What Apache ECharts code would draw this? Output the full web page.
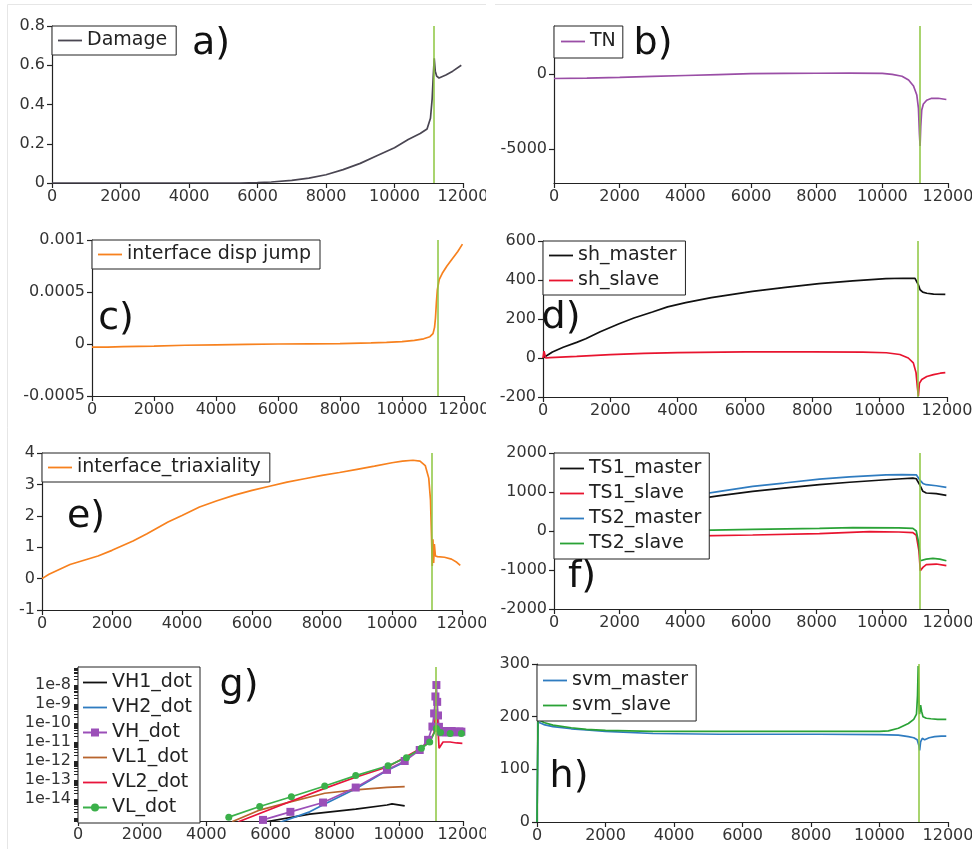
<!DOCTYPE html>
<html><head><meta charset="utf-8">
<script src="https://cdn.jsdelivr.net/npm/echarts@6/dist/echarts.min.js"></script>
<style>html,body{margin:0;padding:0;background:#fff}#c{width:972px;height:849px}</style>
</head><body><div id="c"></div>
<script>
// ---------------- data ----------------
const markerX = 11140;           // green vertical line (time of failure)
const xTickStep = 2000;

// a) Damage
const damageX = [0, 5500, 6000, 6400, 7000, 7500, 8000, 8500, 9000, 9500, 10000, 10400, 10750, 10950, 11050, 11100, 11130, 11160, 11190, 11230, 11300, 11500, 11700, 11950];
const damageY = [0, 0, 0.002, 0.005, 0.013, 0.025, 0.042, 0.068, 0.1, 0.14, 0.18, 0.222, 0.252, 0.275, 0.33, 0.43, 0.54, 0.635, 0.57, 0.545, 0.535, 0.55, 0.57, 0.6];

// b) TN
const tnX = [0, 1000, 2000, 3000, 4000, 5000, 6000, 7000, 8000, 9000, 10000, 10300, 10600, 10800, 10950, 11050, 11100, 11130, 11150, 11170, 11200, 11250, 11350, 11500, 11700, 11950];
const tnY = [-300, -270, -220, -160, -100, -40, 20, 40, 50, 55, 40, -30, -150, -400, -800, -1400, -2300, -4000, -4800, -3500, -2400, -2000, -1750, -1620, -1620, -1700];
const tnTicks = [-5000, 0];

// c) interface disp jump
const jumpX = [0, 500, 1000, 2000, 3000, 4000, 5000, 6000, 7000, 8000, 9000, 9500, 10000, 10400, 10700, 10900, 11000, 11050, 11080, 11110, 11140, 11200, 11300, 11450, 11600, 11800, 11950];
const jumpY = [-0.00003, -0.00003, -0.000025, -0.00002, -0.000012, -0.000008, -0.000004, 0, 0.000002, 0.000004, 0.00001, 0.000015, 0.000022, 0.000035, 0.00005, 0.00007, 0.0001, 0.00016, 0.00025, 0.0004, 0.00052, 0.00062, 0.00068, 0.00075, 0.00081, 0.00089, 0.00096];

// d) sh_master / sh_slave
const shMasterX = [0, 280, 600, 1000, 1270, 1700, 2260, 2700, 3250, 3700, 4240, 5000, 6220, 7200, 8200, 9200, 10185, 10700, 11050, 11100, 11150, 11200, 11280, 11400, 11600, 11950];
const shMasterY = [0, 31, 55, 80, 99, 135, 176, 205, 236, 262, 284, 310, 342, 362, 381, 396, 407, 409, 408, 400, 375, 350, 338, 332, 328, 326];
const shSlaveX = [0, 30, 80, 200, 1000, 2000, 3000, 4000, 6000, 8000, 9500, 10200, 10600, 10850, 11000, 11080, 11120, 11150, 11180, 11250, 11400, 11600, 11800, 11950];
const shSlaveY = [0, 35, 0, 2, 8, 17, 24, 28, 31, 31, 30, 27, 18, 0, -25, -75, -150, -195, -130, -110, -95, -85, -78, -75];

// e) interface_triaxiality
const triaxX = [0, 200, 800, 1600, 2000, 2600, 3000, 3600, 4000, 4500, 5000, 5500, 6000, 6500, 7000, 7500, 8000, 8500, 9000, 9500, 10000, 10300, 10600, 10800, 10950, 11050, 11100, 11130, 11150, 11170, 11190, 11210, 11240, 11300, 11500, 11700, 11850, 11950];
const triaxY = [0, 0.14, 0.45, 0.72, 0.9, 1.2, 1.43, 1.8, 2.01, 2.28, 2.48, 2.66, 2.81, 2.94, 3.07, 3.18, 3.29, 3.38, 3.48, 3.58, 3.69, 3.74, 3.77, 3.74, 3.6, 3.2, 2.5, 1.3, 0.4, 1.25, 0.5, 1.1, 0.72, 0.7, 0.68, 0.62, 0.52, 0.42];

// f) TS1/TS2 master/slave
const ts1MasterX = [0, 1000, 2000, 3000, 4425, 5000, 6050, 7000, 8085, 9000, 10117, 10600, 10930, 11034, 11135, 11236, 11338, 11643, 11950];
const ts1MasterY = [0, 300, 500, 650, 830, 900, 1017, 1100, 1187, 1250, 1314, 1340, 1356, 1340, 1187, 1017, 975, 960, 915];
const ts1SlaveX = [0, 2000, 4425, 6050, 8085, 9610, 10500, 10930, 11034, 11115, 11156, 11236, 11338, 11643, 11950];
const ts1SlaveY = [0, -80, -127, -102, -68, -17, -25, -42, -110, -508, -1017, -932, -864, -847, -890];
const ts2MasterX = [0, 1000, 2000, 3000, 4425, 5000, 6050, 7000, 8085, 9000, 10117, 10600, 11034, 11135, 11236, 11338, 11643, 11950];
const ts2MasterY = [0, 330, 560, 730, 935, 1010, 1144, 1230, 1331, 1390, 1441, 1445, 1441, 1314, 1220, 1187, 1160, 1118];
const ts2SlaveX = [0, 2000, 4425, 6050, 8085, 9100, 10500, 10930, 11034, 11115, 11156, 11200, 11338, 11541, 11750, 11950];
const ts2SlaveY = [0, 10, 17, 42, 68, 85, 80, 68, 0, -340, -763, -740, -720, -703, -720, -763];

// g) rates (log scale)
const vh1X = [5900, 7222, 8656, 9632, 9788, 10183];
const vh1Y = [6.5e-16, 1.6e-15, 2.9e-15, 4.8e-15, 5.5e-15, 4.3e-15];
const vh2X = [6300, 7222, 7690, 8656, 9632, 10183];
const vh2Y = [5.9e-16, 2.1e-15, 5.5e-15, 3.5e-14, 3.2e-13, 8.9e-13];
const vhX = [5767, 6620, 7638, 8656, 9632, 10183, 10651, 10911, 11047, 11100, 11140, 11171, 11195, 11220, 11250, 11290, 11350, 11410, 11470, 11530, 11590, 11650, 11710, 11770, 11830, 11890, 11950];
const vhY = [7.9e-16, 2.1e-15, 6.5e-15, 4.0e-14, 3.4e-13, 1.0e-12, 3.8e-12, 1.3e-11, 6.5e-11, 3.2e-10, 2.5e-9, 1.0e-8, 1.3e-9, 2.5e-10, 6.3e-11, 3.5e-11, 3.2e-11, 3.8e-11, 3.3e-11, 3.5e-11, 3.2e-11, 3.8e-11, 3.4e-11, 3.5e-11, 3.2e-11, 3.6e-11, 3.5e-11];
const vl1X = [4800, 5664, 6651, 7690, 8656, 9632, 10183];
const vl1Y = [6.3e-16, 2.6e-15, 7.2e-15, 2.0e-14, 3.0e-14, 4.1e-14, 4.5e-14];
const vl2X = [5000, 6598, 7690, 8656, 9663, 10651, 10962, 11100, 11150, 11200, 11254, 11378, 11600, 11800, 11980];
const vl2Y = [6.3e-16, 7.2e-15, 3.6e-14, 1.4e-13, 5.0e-13, 4.3e-12, 1.0e-11, 3.2e-11, 4.8e-10, 2.0e-10, 4.7e-12, 1.0e-11, 1.0e-11, 8.9e-12, 8.5e-12];
const vlX = [4700, 5664, 6651, 7690, 8656, 9663, 10236, 10703, 10962, 11171, 11300, 11600, 11950];
const vlY = [1.1e-15, 4.0e-15, 1.3e-14, 4.8e-14, 1.7e-13, 5.6e-13, 1.5e-12, 4.7e-12, 1.0e-11, 5.2e-11, 3.2e-11, 2.8e-11, 2.8e-11];
const gDecades = [-14, -13, -12, -11, -10, -9, -8];

// h) svm
const svmMasterX = [0, 30, 200, 466, 1000, 1440, 2000, 3387, 5333, 8253, 10000, 10551, 10843, 11000, 11100, 11150, 11172, 11200, 11250, 11318, 11450, 11610, 11800, 11950];
const svmMasterY = [0, 190, 185, 181, 177, 175, 172, 168, 166.6, 166.6, 166, 165, 162, 160, 156, 145, 136, 152, 159, 156, 160, 162, 163, 163];
const svmSlaveX = [0, 30, 200, 466, 1000, 1440, 2000, 3387, 5333, 8253, 10000, 10260, 10551, 10843, 11000, 11080, 11110, 11130, 11150, 11170, 11200, 11230, 11270, 11367, 11500, 11700, 11950];
const svmSlaveY = [0, 195, 189, 184, 179, 176, 174, 172, 172, 172, 172, 173, 178, 187, 195, 205, 240, 296, 230, 205, 222, 210, 200, 197, 196, 195, 195];

// ---------------- chart ----------------
const FONT = '"DejaVu Sans", Verdana, sans-serif';
const AX = '#222';
const zip = (xs, ys) => xs.map((x, i) => [x, ys[i]]);
const zipLog = (xs, ys) => xs.map((x, i) => [x, Math.log10(ys[i])]);
const plain = v => String(+(+v).toPrecision(6));

const grids = [
  {left: 52,  top: 26,  width: 411, height: 157},
  {left: 554, top: 26,  width: 394, height: 157},
  {left: 92,  top: 240, width: 372, height: 156},
  {left: 543, top: 241, width: 404, height: 156},
  {left: 42,  top: 453, width: 420, height: 157},
  {left: 554, top: 453, width: 394, height: 156},
  {left: 78,  top: 667, width: 385, height: 154},
  {left: 537, top: 664, width: 411, height: 158}
].map(g => Object.assign({outerBoundsMode: 'none', containLabel: false}, g));

const labelBase = {fontSize: 16, fontFamily: FONT, color: '#333'};
function xAx(i) {
  return {
    type: 'value', gridIndex: i, min: 0, max: 12000, interval: xTickStep,
    axisLine: {show: true, onZero: false, lineStyle: {color: AX, width: 1.2}},
    axisTick: {show: true, length: 5, lineStyle: {color: AX, width: 1.2}},
    axisLabel: Object.assign({margin: 6, formatter: plain}, labelBase),
    splitLine: {show: false}
  };
}
function yAx(i, o) {
  return Object.assign({
    type: 'value', gridIndex: i,
    axisLine: {show: true, onZero: false, lineStyle: {color: AX, width: 1.2}},
    axisTick: {show: true, length: 5, lineStyle: {color: AX, width: 1.2}},
    axisLabel: Object.assign({margin: 7, formatter: plain}, labelBase),
    splitLine: {show: false}
  }, o);
}

const gMinor = [];
for (let d = -16; d <= -7; d++) for (let k = 1; k <= 9; k++) {
  const v = d + Math.log10(k);
  if (v >= -15.16 && v <= -7.05) gMinor.push(v);
}

const yAxes = [
  yAx(0, {min: 0, max: 0.8, interval: 0.2}),
  yAx(1, {min: -7270, max: 3200,
    axisLabel: Object.assign({margin: 7, formatter: plain, customValues: tnTicks}, labelBase),
    axisTick: {show: true, length: 5, lineStyle: {color: AX, width: 1.2}, customValues: tnTicks}}),
  yAx(2, {min: -0.0005, max: 0.001, interval: 0.0005}),
  yAx(3, {min: -200, max: 600, interval: 200}),
  yAx(4, {min: -1, max: 4, interval: 1}),
  yAx(5, {min: -2000, max: 2000, interval: 1000}),
  yAx(6, {min: -15.16, max: -7.05,
    axisLabel: Object.assign({margin: 7, customValues: gDecades, formatter: v => '1e' + Math.round(v)}, labelBase),
    axisTick: {show: true, length: 4, lineStyle: {color: AX, width: 1}, customValues: gMinor}}),
  yAx(7, {min: 0, max: 300, interval: 100})
];

const mark = {
  silent: true, symbol: ['none', 'none'], animation: false,
  label: {show: false},
  lineStyle: {color: '#8cc63f', width: 1.5, type: 'solid'},
  emphasis: {disabled: true},
  data: [{xAxis: markerX}]
};

function ser(name, data, color, gi, extra) {
  return Object.assign({
    type: 'line', name, data, xAxisIndex: gi, yAxisIndex: gi,
    symbol: 'none', lineStyle: {color, width: 1.7}, itemStyle: {color},
    animation: false, emphasis: {disabled: true}, clip: true
  }, extra || {});
}
const withMark = {markLine: mark};

const series = [
  ser('Damage', zip(damageX, damageY), '#4a4652', 0, withMark),
  ser('TN', zip(tnX, tnY), '#9a4ea6', 1, withMark),
  ser('interface disp jump', zip(jumpX, jumpY), '#f7811e', 2, withMark),
  ser('sh_master', zip(shMasterX, shMasterY), '#111111', 3, withMark),
  ser('sh_slave', zip(shSlaveX, shSlaveY), '#e8142f', 3),
  ser('interface_triaxiality', zip(triaxX, triaxY), '#f7811e', 4, withMark),
  ser('TS1_master', zip(ts1MasterX, ts1MasterY), '#111111', 5, withMark),
  ser('TS1_slave', zip(ts1SlaveX, ts1SlaveY), '#e8142f', 5),
  ser('TS2_master', zip(ts2MasterX, ts2MasterY), '#2f7cc0', 5),
  ser('TS2_slave', zip(ts2SlaveX, ts2SlaveY), '#2aa236', 5),
  ser('VH1_dot', zipLog(vh1X, vh1Y), '#111111', 6, withMark),
  ser('VH2_dot', zipLog(vh2X, vh2Y), '#2f7cc0', 6),
  ser('VL1_dot', zipLog(vl1X, vl1Y), '#b8652e', 6),
  ser('VH_dot', zipLog(vhX, vhY), '#9b4fb8', 6, {symbol: 'rect', symbolSize: 8, showSymbol: true}),
  ser('VL2_dot', zipLog(vl2X, vl2Y), '#e8143c', 6),
  ser('VL_dot', zipLog(vlX, vlY), '#3bb04a', 6, {symbol: 'circle', symbolSize: 7, showSymbol: true}),
  ser('svm_master', zip(svmMasterX, svmMasterY), '#2f7cc0', 7, withMark),
  ser('svm_slave', zip(svmSlaveX, svmSlaveY), '#2aa236', 7)
];

const markerSeries = ['VH_dot', 'VL_dot'];
const LINE_ICON = 'path://M0,0L24,0L24,1.8L0,1.8Z';
function leg(left, top, names, pad) {
  return {
    left, top, orient: 'vertical', selectedMode: false,
    data: names.map(n => markerSeries.indexOf(n) >= 0 ? {name: n} : {name: n, icon: LINE_ICON}),
    itemWidth: 24, itemHeight: 10, itemGap: 6, padding: pad || [5, 9, 5, 6],
    borderColor: '#222', borderWidth: 1, backgroundColor: '#fff', borderRadius: 0,
    textStyle: {fontSize: 19, fontFamily: FONT, color: '#222'}
  };
}
const legends = [
  leg(52, 26, ['Damage']),
  leg(554, 26, ['TN'], [6, 7, 7, 7]),
  leg(92, 240, ['interface disp jump']),
  leg(543, 241, ['sh_master', 'sh_slave']),
  leg(42, 453, ['interface_triaxiality']),
  leg(554, 453, ['TS1_master', 'TS1_slave', 'TS2_master', 'TS2_slave'], [6, 8, 6, 6]),
  leg(78, 667, ['VH1_dot', 'VH2_dot', 'VH_dot', 'VL1_dot', 'VL2_dot', 'VL_dot'], [6, 8, 6, 4]),
  leg(537, 665, ['svm_master', 'svm_slave'], [6, 8, 6, 6])
];

const panelLabels = [['a)', 211, 44], ['b)', 653, 44], ['c)', 116, 319], ['d)', 561, 318],
  ['e)', 86, 517], ['f)', 582, 577], ['g)', 239, 686], ['h)', 569, 777]];
const graphics = [
  {type: 'rect', z: -10, silent: true, shape: {x: 7.5, y: 4.5, width: 980, height: 860},
    style: {fill: 'none', stroke: '#e6e6e6', lineWidth: 1}},
  {type: 'rect', z: 100, silent: true, shape: {x: 486, y: 0, width: 9, height: 849}, style: {fill: '#fff'}}
].concat(panelLabels.map(([t, x, y]) => ({
  type: 'text', x, y, z: 100, silent: true,
  style: {text: t, font: '38px ' + FONT, fill: '#111', align: 'center', verticalAlign: 'middle'}
})));

const chart = echarts.init(document.getElementById('c'), null, {renderer: 'canvas'});
chart.setOption({
  animation: false,
  backgroundColor: '#fff',
  grid: grids,
  xAxis: grids.map((g, i) => xAx(i)),
  yAxis: yAxes,
  legend: legends,
  series,
  graphic: graphics
});
</script></body></html>
